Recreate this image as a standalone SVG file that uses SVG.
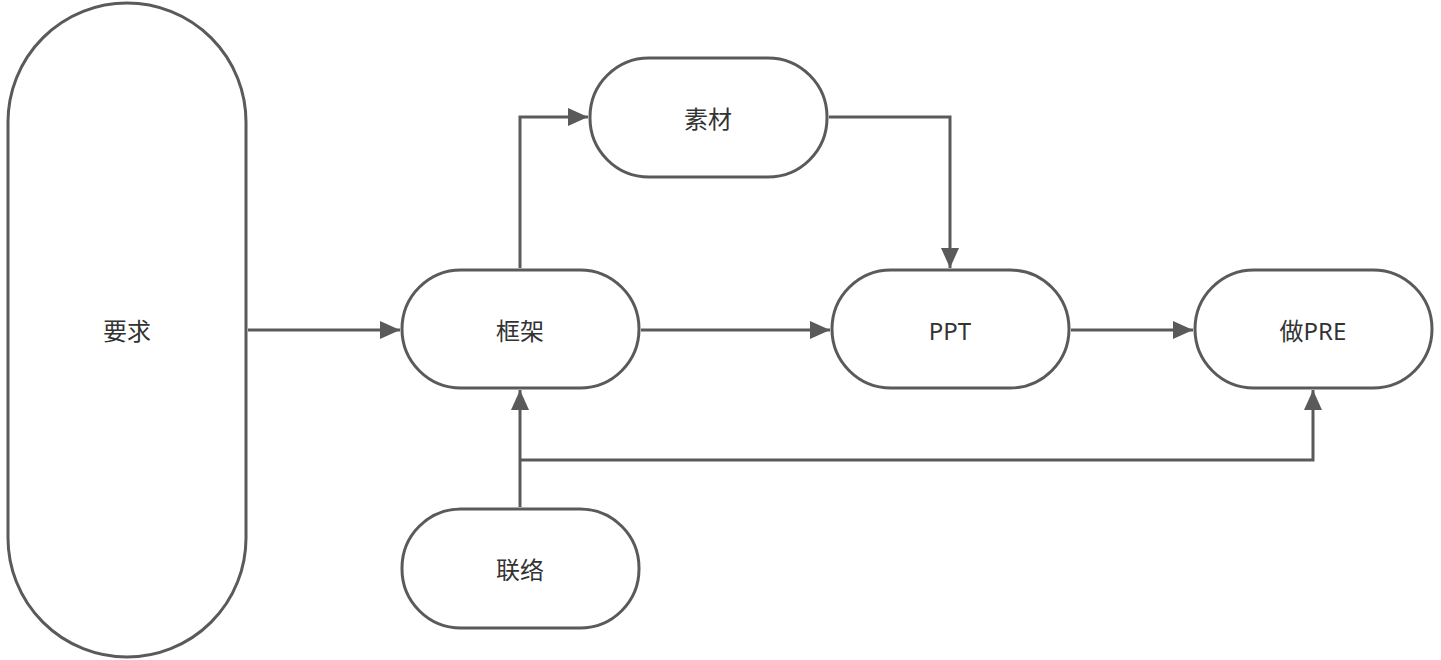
<svg xmlns="http://www.w3.org/2000/svg" width="1441" height="660" viewBox="0 0 1441 660">
<style>
.n{fill:#fff;stroke:#5a5a5a;stroke-width:3}
.t{font-family:"Noto Sans","Noto Sans CJK SC",sans-serif;font-size:24px;fill:#333;text-anchor:middle;dominant-baseline:central}
.c{fill:none;stroke:#5a5a5a;stroke-width:3}
</style>
<defs><marker id="a" markerWidth="8" markerHeight="8" refX="7" refY="4" orient="auto" markerUnits="userSpaceOnUse" viewBox="0 0 8 8"><path d="M0,0L8,4L0,8z" fill="#5a5a5a"/></marker>
<marker id="b" markerWidth="20" markerHeight="18" refX="20" refY="9" orient="auto" markerUnits="userSpaceOnUse"><path d="M0,0L20,9L0,18z" fill="#5a5a5a"/></marker></defs>
<rect width="1441" height="660" fill="#fff"/>
<g id="n1"><rect class="n" x="8" y="3" width="238" height="654" rx="119"/><text class="t" x="127" y="330">要求</text></g>
<g id="n2"><rect class="n" x="402" y="270" width="237" height="118" rx="59"/><text class="t" x="520" y="330">框架</text></g>
<g id="n3"><rect class="n" x="590" y="58" width="237" height="119" rx="59"/><text class="t" x="708" y="118">素材</text></g>
<g id="n4"><rect class="n" x="832" y="270" width="237" height="118" rx="59"/><text class="t" x="950" y="330">PPT</text></g>
<g id="n5"><rect class="n" x="1195" y="270" width="237" height="118" rx="59"/><text class="t" x="1313" y="330">做PRE</text></g>
<g id="n6"><rect class="n" x="402" y="509" width="237" height="119" rx="59"/><text class="t" x="520" y="569">联络</text></g>
<g id="edges">
<path class="c" d="M248,330H400" marker-end="url(#b)"/>
<path class="c" d="M520,268V117H588" marker-end="url(#b)"/>
<path class="c" d="M829,117H950V268" marker-end="url(#b)"/>
<path class="c" d="M641,330H830" marker-end="url(#b)"/>
<path class="c" d="M1071,330H1193" marker-end="url(#b)"/>
<path class="c" d="M520,507V390" marker-end="url(#b)"/>
<path class="c" d="M520,460H1313V390" marker-end="url(#b)"/>
</g>
</svg>
